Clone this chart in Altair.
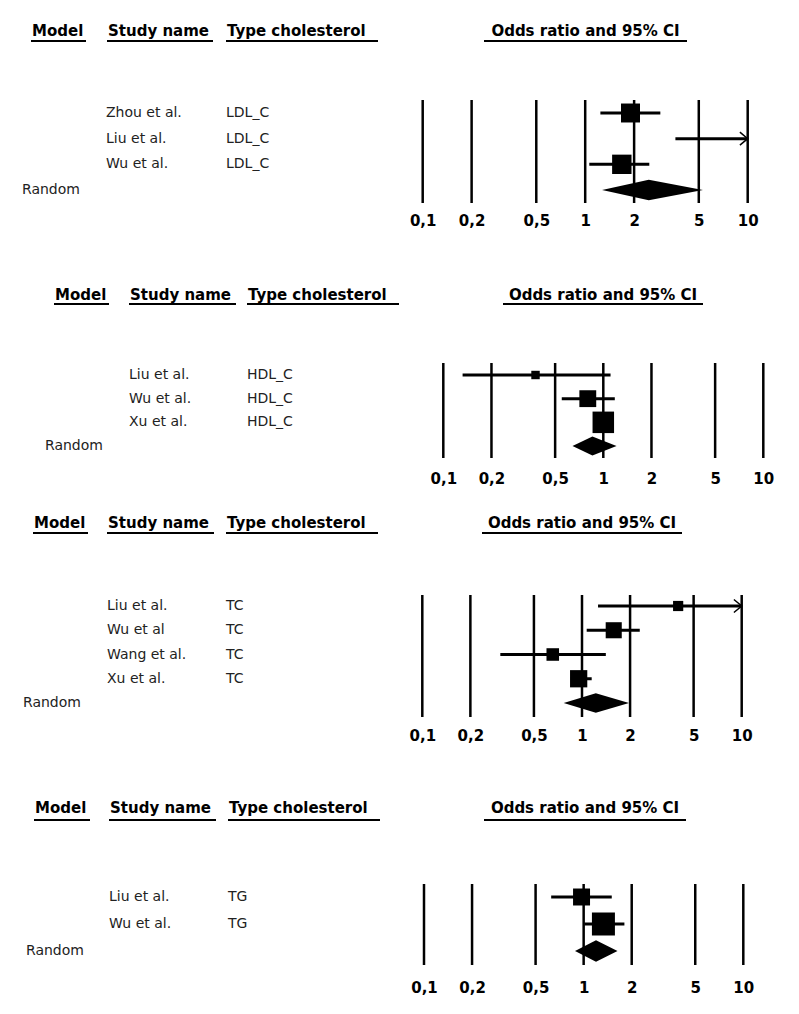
import altair as alt
import pandas as pd

# ---------------- data ----------------
tick_values = [0.1, 0.2, 0.5, 1, 2, 5, 10]
tick_labels = ["0,1", "0,2", "0,5", "1", "2", "5", "10"]

headers = ["Model", "Study name", "Type cholesterol"]
or_title = "Odds ratio and 95% CI"
random_label = "Random"

# Panel 1: LDL_C  (Liu: point estimate off the scale, upper CI beyond 10)
ldl_studies = ["Zhou et al.", "Liu et al.", "Wu et al."]
ldl_type = ["LDL_C", "LDL_C", "LDL_C"]
ldl_or = [1.90, None, 1.68]
ldl_lo = [1.24, 3.59, 1.06]
ldl_hi = [2.90, 20.0, 2.48]
ldl_weight = [44, 10, 46]
ldl_random = [2.46, 1.27, 5.30]  # estimate, lower, upper

# Panel 2: HDL_C
hdl_studies = ["Liu et al.", "Wu et al.", "Xu et al."]
hdl_type = ["HDL_C", "HDL_C", "HDL_C"]
hdl_or = [0.377, 0.80, 1.00]
hdl_lo = [0.132, 0.55, 0.88]
hdl_hi = [1.11, 1.18, 1.12]
hdl_weight = [8.7, 34.7, 56.6]
hdl_random = [0.855, 0.642, 1.21]

# Panel 3: TC
tc_studies = ["Liu et al.", "Wu et al", "Wang et al.", "Xu et al."]
tc_type = ["TC", "TC", "TC", "TC"]
tc_or = [4.0, 1.58, 0.656, 0.953]
tc_lo = [1.26, 1.07, 0.308, 0.85]
tc_hi = [20.0, 2.30, 1.41, 1.15]
tc_weight = [12.7, 31.6, 19.3, 36.4]
tc_random = [1.22, 0.768, 1.97]

# Panel 4: TG
tg_studies = ["Liu et al.", "Wu et al."]
tg_type = ["TG", "TG"]
tg_or = [0.97, 1.33]
tg_lo = [0.626, 1.01]
tg_hi = [1.50, 1.80]
tg_weight = [35.3, 64.7]
tg_random = [1.195, 0.883, 1.63]

# ---------------- layout (pixels inside each panel) ----------------
W = 780
layouts = [
    dict(height=198, x_range=[414.7, 739.7], rows_px=[105, 182], lines_px=[92, 195],
         head_y=23, uline_y=33, head_x=[(23, 78), (99, 205), (218, 370)], title_x=(476, 679),
         study_x=98, type_x=218, random_x=14),
    dict(height=228, x_range=[435.3, 755.3], rows_px=[139, 210], lines_px=[127, 222],
         head_y=59, uline_y=68, head_x=[(46, 101), (121, 228), (239, 391)], title_x=(495, 695),
         study_x=121, type_x=239, random_x=37),
    dict(height=227, x_range=[414.3, 733.7], rows_px=[112, 209], lines_px=[101, 223],
         head_y=29, uline_y=39, head_x=[(25, 80), (99, 206), (218, 370)], title_x=(474, 674),
         study_x=99, type_x=218, random_x=15),
    dict(height=222, x_range=[416.0, 735.3], rows_px=[146, 200], lines_px=[133, 214],
         head_y=57, uline_y=69, head_x=[(26, 82), (101, 208), (220, 372)], title_x=(476, 678),
         study_x=101, type_x=220, random_x=18),
]

FONT = "DejaVu Sans"
label_expr = " : ".join(
    f"datum.value == {v} ? '{l}'" for v, l in zip(tick_values, tick_labels)
) + " : ''"

DIAMOND_HALF = 0.4  # half height of summary diamond, in row units


def panel(studies, types, ors, los, his, weights, rnd, L):
    n = len(studies)
    df = pd.DataFrame({
        "row": list(range(1, n + 1)), "study": studies, "type": types,
        "or": ors, "lo": los, "hi": his, "w": weights,
    })
    r = n + 1
    dd = pd.DataFrame({
        "x": [rnd[1], rnd[0], rnd[2]],
        "y": [r, r - DIAMOND_HALF, r],
        "y2": [r, r + DIAMOND_HALF, r],
    })
    xs = alt.Scale(type="log", domain=[0.1, 10], range=L["x_range"], nice=False)
    ys = alt.Scale(domain=[1, r], range=L["rows_px"], nice=False, zero=False)
    axis = alt.Axis(values=tick_values, labelExpr=label_expr, title=None, domain=False,
                    ticks=False, grid=False, labelFont=FONT, labelFontWeight="bold",
                    labelFontSize=15, labelColor="#000", labelPadding=7,
                    labelFlush=False, labelOverlap=False, labelBound=False)

    grid = alt.Chart(pd.DataFrame({"v": tick_values})).mark_rule(
        color="black", strokeWidth=2.5
    ).encode(
        x=alt.X("v:Q", scale=xs, axis=axis),
        y=alt.value(L["lines_px"][0]), y2=alt.value(L["lines_px"][1]),
    )
    ci = alt.Chart(df).transform_calculate(hi_d="min(datum.hi, 10)").mark_rule(
        color="black", strokeWidth=3
    ).encode(
        x=alt.X("lo:Q", scale=xs, axis=axis), x2="hi_d:Q",
        y=alt.Y("row:Q", scale=ys, axis=None),
    )
    sq = alt.Chart(df).mark_square(color="black", opacity=1, filled=True).encode(
        x=alt.X("or:Q", scale=xs, axis=axis),
        y=alt.Y("row:Q", scale=ys, axis=None),
        size=alt.Size("w:Q", scale=alt.Scale(domain=[0, max(weights)], range=[0, 529]), legend=None),
    )
    diamond = alt.Chart(dd).mark_area(color="black", orient="vertical", opacity=1).encode(
        x=alt.X("x:Q", scale=xs, axis=axis),
        y=alt.Y("y:Q", scale=ys, axis=None), y2="y2:Q",
    )
    arrow = alt.Chart(df).transform_filter("datum.hi > 10").transform_calculate(
        xa="10"
    ).mark_point(
        shape="M-1.2,-1L0,0L-1.2,1", filled=False, color="black",
        strokeWidth=1.5, size=169, opacity=1
    ).encode(
        x=alt.X("xa:Q", scale=xs, axis=axis),
        y=alt.Y("row:Q", scale=ys, axis=None),
    )
    text_props = dict(align="left", baseline="middle", font=FONT, fontSize=14, color="#222")
    study_t = alt.Chart(df).mark_text(**text_props).encode(
        x=alt.value(L["study_x"]), y=alt.Y("row:Q", scale=ys, axis=None), text="study:N")
    type_t = alt.Chart(df).mark_text(**text_props).encode(
        x=alt.value(L["type_x"]), y=alt.Y("row:Q", scale=ys, axis=None), text="type:N")
    rand_t = alt.Chart(pd.DataFrame({"row": [r], "label": [random_label]})).mark_text(**text_props).encode(
        x=alt.value(L["random_x"]), y=alt.Y("row:Q", scale=ys, axis=None), text="label:N")

    layers = [grid, ci, sq, diamond, arrow, study_t, type_t, rand_t]
    head_props = dict(baseline="middle", font=FONT, fontSize=15, fontWeight="bold", color="#000")
    for h, (x0, x1) in zip(headers, L["head_x"]):
        layers.append(alt.Chart(pd.DataFrame({"t": [h]})).mark_text(align="left", **head_props).encode(
            x=alt.value(x0 + 1), y=alt.value(L["head_y"]), text="t:N"))
        layers.append(alt.Chart(pd.DataFrame({"t": [h]})).mark_rule(color="black", strokeWidth=2).encode(
            x=alt.value(x0), x2=alt.value(x1), y=alt.value(L["uline_y"])))
    tx0, tx1 = L["title_x"]
    layers.append(alt.Chart(pd.DataFrame({"t": [or_title]})).mark_text(align="center", **head_props).encode(
        x=alt.value((tx0 + tx1) / 2), y=alt.value(L["head_y"]), text="t:N"))
    layers.append(alt.Chart(pd.DataFrame({"t": [or_title]})).mark_rule(color="black", strokeWidth=2).encode(
        x=alt.value(tx0), x2=alt.value(tx1), y=alt.value(L["uline_y"])))

    return alt.layer(*layers).properties(width=W, height=L["height"])


panels = [
    panel(ldl_studies, ldl_type, ldl_or, ldl_lo, ldl_hi, ldl_weight, ldl_random, layouts[0]),
    panel(hdl_studies, hdl_type, hdl_or, hdl_lo, hdl_hi, hdl_weight, hdl_random, layouts[1]),
    panel(tc_studies, tc_type, tc_or, tc_lo, tc_hi, tc_weight, tc_random, layouts[2]),
    panel(tg_studies, tg_type, tg_or, tg_lo, tg_hi, tg_weight, tg_random, layouts[3]),
]

chart = alt.vconcat(*panels, spacing=30, bounds="flush").properties(
    padding=0, background="white"
).configure_view(stroke=None)

chart.save("out.html", embed_options={"renderer": "svg", "actions": False})
